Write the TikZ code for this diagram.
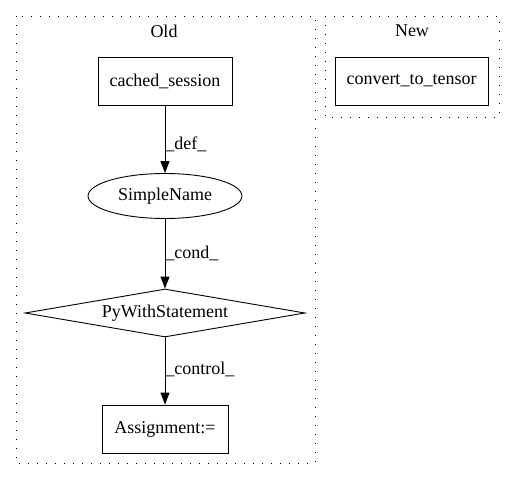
\documentclass[tikz,border=0pt]{standalone}
\usepackage{fontspec}
\setmainfont{Liberation Serif}
\usetikzlibrary{arrows.meta,shapes.geometric}
\begin{document}
\begin{tikzpicture}[x=1pt,y=-1pt,
  every node/.style={font=\fontsize{18}{20}\selectfont, inner sep=0pt},
  cluster/.style={draw, line width=0.9pt, dash pattern=on 1.2pt off 7.8pt},
  boxnode/.style={draw, line width=0.9pt, rectangle, minimum height=48pt},
  ellnode/.style={draw, line width=0.9pt, ellipse, minimum width=154pt, minimum height=45pt},
  dianode/.style={draw, line width=0.9pt, diamond, aspect=5.8, minimum width=280pt, minimum height=48pt},
  edge/.style={draw, line width=0.9pt, -{Triangle[length=12pt,width=9pt]}},
  elabel/.style={anchor=west}
]
\useasboundingbox (0,0) rectangle (515,480);
\draw[cluster] (16,16) rectangle (315,463);
\draw[cluster] (325,16) rectangle (499,117);
\node (old) at (164,31) {Old};
\node (new) at (412,31) {New};
\node[boxnode, minimum width=134pt] (cs) at (165,81) {cached\_session};
\node[boxnode, minimum width=153pt] (ct) at (411.5,81) {convert\_to\_tensor};
\node[ellnode] (sn) at (165,196) {SimpleName};
\node[dianode] (pw) at (165,313) {PyWithStatement};
\node[boxnode, minimum width=126pt] (as) at (165,429) {Assignment:=};
\draw[edge] (cs) -- node[elabel, pos=0.57] {\_def\_} (sn);
\draw[edge] (sn) -- node[elabel, pos=0.5] {\_cond\_} (pw.north);
\draw[edge] (pw.south) -- node[elabel, pos=0.48] {\_control\_} (as);
\end{tikzpicture}
\end{document}
